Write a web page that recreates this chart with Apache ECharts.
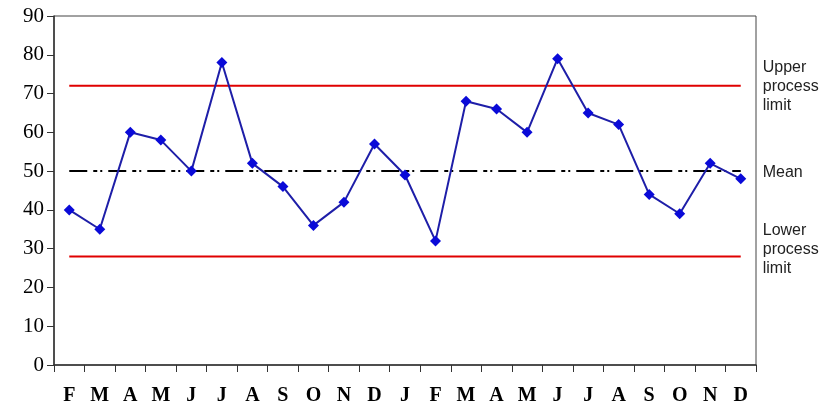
<!DOCTYPE html>
<html>
<head>
<meta charset="utf-8">
<script src="https://cdn.jsdelivr.net/npm/echarts@6/dist/echarts.min.js"></script>
<style>
html,body{margin:0;padding:0;background:#fff;}
#chart{width:829px;height:414px;}
</style>
</head>
<body>
<div id="chart"></div>
<script>
var categories = ['F','M','A','M','J','J','A','S','O','N','D','J','F','M','A','M','J','J','A','S','O','N','D'];
var values = [40,35,60,58,50,78,52,46,36,42,57,49,32,68,66,60,79,65,62,44,39,52,48];
var upperLimit = 72;
var meanValue = 50;
var lowerLimit = 28;
var yTicks = [0,10,20,30,40,50,60,70,80,90];

function constant(v){ return categories.map(function(){ return v; }); }

var chart = echarts.init(document.getElementById('chart'), null, {renderer:'canvas'});
var refLine = function(name, v, color, type, label, offset){
  return {
    name: name, type: 'line', data: constant(v), symbol: 'none', silent: true,
    lineStyle: {color: color, width: 2, type: type},
    z: 1,
    endLabel: {
      show: true, formatter: label, distance: 22, align: 'left',
      fontFamily: 'Liberation Sans', fontSize: 16, lineHeight: 19, color: '#222',
      offset: offset
    },
    animation: false
  };
};
chart.setOption({
  animation: false,
  backgroundColor: '#fff',
  grid: {left: 54, right: 73, top: 16, bottom: 49, show: true, borderColor: '#444', borderWidth: 1},
  xAxis: {
    type: 'category', data: categories, boundaryGap: true,
    axisLine: {lineStyle: {color: '#333', width: 1.5}},
    axisTick: {show: true, length: 7, lineStyle: {color: '#333'}},
    axisLabel: {fontFamily: 'Liberation Serif', fontSize: 20, color: '#000', margin: 21, fontWeight: 'bold'},
    splitLine: {show: false}
  },
  yAxis: {
    type: 'value', min: yTicks[0], max: yTicks[yTicks.length-1], interval: 10,
    axisLine: {show: true, lineStyle: {color: '#333', width: 1.5}},
    axisTick: {show: true, length: 7, lineStyle: {color: '#333'}},
    axisLabel: {fontFamily: 'Liberation Serif', fontSize: 21, color: '#000', margin: 10},
    splitLine: {show: false}
  },
  series: [
    refLine('Upper', upperLimit, '#e00000', 'solid', 'Upper\nprocess\nlimit', [0, 1]),
    refLine('Mean', meanValue, '#000', [18,6,4,3,2,6], 'Mean', [0, 1]),
    refLine('Lower', lowerLimit, '#e00000', 'solid', 'Lower\nprocess\nlimit', [0, -7]),
    {
      name: 'Value', type: 'line', data: values, symbol: 'diamond', symbolSize: 11,
      lineStyle: {color: '#1e1ea8', width: 2},
      itemStyle: {color: '#0a0ad8'},
      z: 5
    }
  ]
});
</script>
</body>
</html>
